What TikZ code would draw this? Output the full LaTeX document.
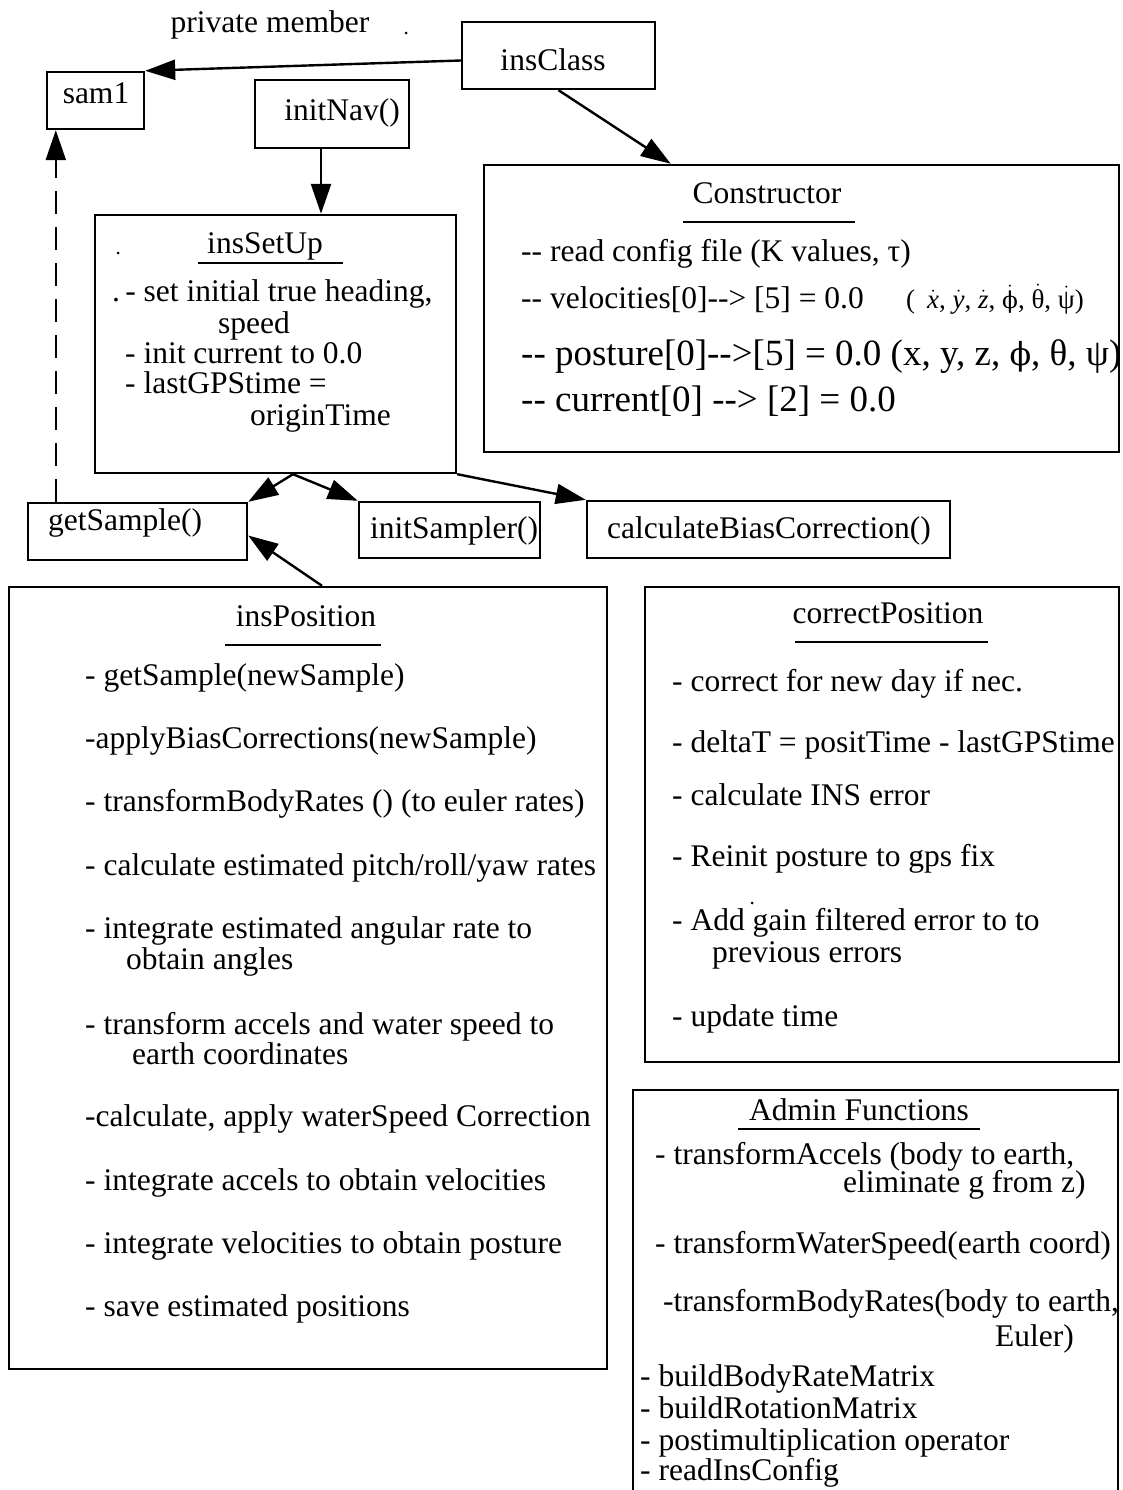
\documentclass[tikz,border=0pt]{standalone}
\usepackage{fontspec}
\setmainfont{Liberation Serif}
\newfontfamily\grk{DejaVu Serif}[Scale=0.86]
\usetikzlibrary{arrows.meta}
% two plain hyphens, kept apart so they never merge into a dash
\newcommand{\hh}{-\kern0pt-}
% a letter with a dot above it (time derivative)
\newcommand{\dotted}[1]{\ensuremath{\dot{\hbox{#1}}}}
% stroked phi
\newcommand{\sphi}{{\grk ϕ}}
\begin{document}
\begin{tikzpicture}[x=1pt,y=-1pt,
  box/.style={draw, line width=2.4pt, rectangle, inner sep=0pt},
  txt/.style={inner sep=0pt, anchor=mid west, yshift=-6pt, font=\fontsize{31.5}{36}\selectfont},
  lbl/.style={inner sep=0pt, anchor=mid, yshift=-6pt, font=\fontsize{31.5}{36}\selectfont},
  big/.style={txt, font=\fontsize{37}{40}\selectfont},
  small/.style={txt, font=\fontsize{27}{30}\selectfont},
  uline/.style={line width=2.4pt},
  link/.style={line width=2.4pt, -{Triangle[length=30pt,width=20pt]}},
  weak/.style={link, dash pattern=on 23pt off 13pt},
]
\fill[white] (0,0) rectangle (1123,1490);
\useasboundingbox (0,0) rectangle (1123,1490);

% ---------- boxes ----------
\node[box, minimum width=97pt,  minimum height=57pt]  (sam1)     at (95.5,100.5) {};
\node[box, minimum width=193pt, minimum height=67pt]  (insClass) at (558.5,55.5) {};
\node[box, minimum width=154pt, minimum height=68pt]  (initNav)  at (332,114) {};
\node[box, minimum width=635pt, minimum height=287pt] (cons)     at (801.5,308.5) {};
\node[box, minimum width=361pt, minimum height=258pt] (setup)    at (275.5,344) {};
\node[box, minimum width=219pt, minimum height=57pt]  (getS)     at (137.5,531.5) {};
\node[box, minimum width=181pt, minimum height=56pt]  (initS)    at (449.5,530) {};
\node[box, minimum width=363pt, minimum height=57pt]  (calcB)    at (768.5,529.5) {};
\node[box, minimum width=598pt, minimum height=782pt] (pos)      at (308,978) {};
\node[box, minimum width=474pt, minimum height=475pt] (corr)     at (882,824.5) {};
\node[box, minimum width=485pt, minimum height=410pt] (admin)    at (875.5,1295) {};

% ---------- small box labels ----------
\node[lbl] (privLbl)  at (270,24)  {private member};
\node[lbl] (sam1Lbl)  at (96,95)   {sam1};
\node[lbl] (clsLbl)   at (553,62)  {insClass};
\node[lbl] (navLbl)   at (342,112) {initNav()};
\node[txt] (getSLbl)  at (48,522)  {getSample()};
\node[txt] (initSLbl) at (370,530) {initSampler()};
\node[txt] (calcBLbl) at (607,530) {calculateBiasCorrection()};

% ---------- Constructor ----------
\node[lbl] (consT) at (767,195) {Constructor};
\draw[uline] (683,222) -- (855,222);
\node[txt]   (c1) at (521,253) {\hh{} read config file (K values, τ)};
\node[txt]   (c2) at (521,300) {\hh{} velocities[0]\hh> [5] = 0.0};
\node[small] (c2b) at (906,300) {(\hspace{12pt}\dotted{\itshape x}, \dotted{\itshape y}, \dotted{\itshape z}, \dotted{\sphi}, \dotted{θ}, \dotted{ψ})};
\node[big]   (c3) at (521,357) {\hh{} posture[0]\hh>[5] = 0.0 (x, y, z, \sphi, θ, ψ)};
\node[big]   (c4) at (521,403) {\hh{} current[0] \hh> [2] = 0.0};

% ---------- insSetUp ----------
\node[lbl] (setT) at (265,245) {insSetUp};
\draw[uline] (198,263) -- (343,263);
\node[txt] (s1) at (112,293) {.\,- set initial true heading,};
\node[txt] (s2) at (218,325) {speed};
\node[txt] (s3) at (125,355) {- init current to 0.0};
\node[txt] (s4) at (125,385) {- lastGPStime =};
\node[txt] (s5) at (250,417) {originTime};

% ---------- insPosition ----------
\node[lbl] (posT) at (306,618) {insPosition};
\draw[uline] (225,645) -- (381,645);
\node[txt] (p1)  at (85,677)   {- getSample(newSample)};
\node[txt] (p2)  at (85,740)   {-applyBiasCorrections(newSample)};
\node[txt] (p3)  at (85,803)   {- transformBodyRates () (to euler rates)};
\node[txt] (p4)  at (85,867)   {- calculate estimated pitch/roll/yaw rates};
\node[txt] (p5)  at (85,930)   {- integrate estimated angular rate to};
\node[txt] (p5b) at (126,961)  {obtain angles};
\node[txt] (p6)  at (85,1026)  {- transform accels and water speed to};
\node[txt] (p6b) at (132,1056) {earth coordinates};
\node[txt] (p7)  at (85,1118)  {-calculate, apply waterSpeed Correction};
\node[txt] (p8)  at (85,1182)  {- integrate accels to obtain velocities};
\node[txt] (p9)  at (85,1245)  {- integrate velocities to obtain posture};
\node[txt] (p10) at (85,1308)  {- save estimated positions};

% ---------- correctPosition ----------
\node[lbl] (corrT) at (888,615) {correctPosition};
\draw[uline] (795,642) -- (988,642);
\node[txt] (r1)  at (672,683)  {- correct for new day if nec.};
\node[txt] (r2)  at (672,744)  {- deltaT = positTime - lastGPStime};
\node[txt] (r3)  at (672,797)  {- calculate INS error};
\node[txt] (r4)  at (672,858)  {- Reinit posture to gps fix};
\node[txt] (r5)  at (672,922)  {- Add gain filtered error to to};
\node[txt] (r5b) at (712,954)  {previous errors};
\node[txt] (r6)  at (672,1018) {- update time};

% ---------- Admin Functions ----------
\node[lbl] (admT) at (859,1112) {Admin Functions};
\draw[uline] (738,1129) -- (980,1129);
\node[txt] (a1)  at (655,1156) {- transformAccels (body to earth,};
\node[txt] (a1b) at (843,1184) {eliminate g from z)};
\node[txt] (a2)  at (655,1245) {- transformWaterSpeed(earth coord)};
\node[txt] (a3)  at (663,1303) {-transformBodyRates(body to earth,};
\node[txt] (a3b) at (995,1338) {Euler)};
\node[txt] (a4)  at (640,1378) {- buildBodyRateMatrix};
\node[txt] (a5)  at (640,1410) {- buildRotationMatrix};
\node[txt] (a6)  at (640,1442) {- postimultiplication operator};
\node[txt] (a7)  at (640,1472) {- readInsConfig};

% ---------- specks ----------
\fill (406,33) circle (1.5);
\fill (118,253) circle (1.5);
\fill (752,903) circle (1.5);

% ---------- connectors ----------
\draw[link] ([yshift=-5pt]insClass.west) -- (sam1.north east);
\draw[link] (insClass.south) -- ([xshift=188pt]cons.north west);
\coordinate (navFoot) at ([xshift=-11pt]initNav.south);
\draw[link] (navFoot) -- (navFoot |- setup.north);
\coordinate (setFoot) at ([xshift=17.5pt]setup.south);
\draw[link] (setFoot) -- (getS.north east);
\draw[link] (setFoot) -- (initS.north west);
\draw[link] (setup.south east) -- (calcB.north west);
\draw[link] ([xshift=14pt]pos.north) -- ([yshift=-4pt]getS.east);
\coordinate (dashFoot) at ([xshift=29pt]getS.north west);
\draw[weak] (dashFoot) -- (dashFoot |- sam1.south);
\end{tikzpicture}
\end{document}
